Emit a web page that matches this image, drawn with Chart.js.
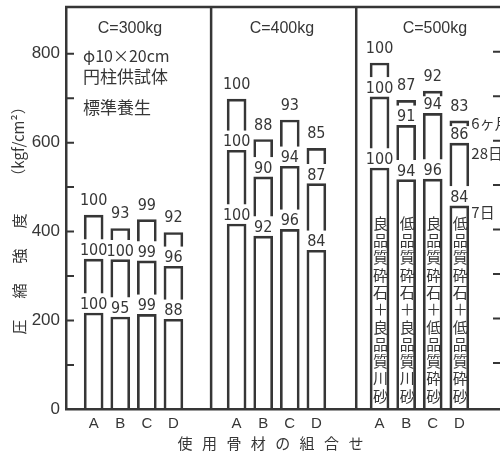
<!DOCTYPE html>
<html><head><meta charset="utf-8">
<script src="https://cdn.jsdelivr.net/npm/chart.js@4.4.1/dist/chart.umd.min.js"></script>
<style>html,body{margin:0;padding:0;background:#fff}#wrap{width:500px;height:455px;position:relative}</style>
</head><body><div id="wrap"><canvas id="c"></canvas></div>
<script>
// ---- data ----
const panels = ['C=300kg', 'C=400kg', 'C=500kg'];
const categories = ['A', 'B', 'C', 'D'];
const seriesNames = ['7日', '28日', '6ヶ月'];
const day7   = [217, 208, 214, 203,  417, 390, 405, 358,  543, 517, 518, 458];
const day28  = [338, 337, 334, 322,  583, 523, 547, 508,  703, 639, 666, 599];
const month6 = [437, 407, 427, 398,  698, 607, 651, 587,  779, 695, 716, 649];
const ratio7  = [100, 95, 99, 88,  100, 92, 96, 84,  100, 94, 96, 84];
const ratio28 = [100, 100, 99, 96,  100, 90, 94, 87,  100, 91, 94, 86];
const ratio6  = [100, 93, 99, 92,  100, 88, 93, 85,  100, 87, 92, 83];
const materials = ['良品質砕石＋良品質川砂', '低品質砕石＋良品質川砂', '良品質砕石＋低品質砕砂', '低品質砕石＋低品質砕砂'];
const yTickValues = [0, 100, 200, 300, 400, 500, 600, 700, 800];
const notes = ['φ10×20cm', '円柱供試体', '標準養生'];
const xTitle = '使用骨材の組合せ';
const yTitleChars = ['圧', '縮', '強', '度'];
const yTitleUnit = '（kgf/cm²）';

// ---- layout (not data) ----
const PANEL_STEP = 5.27, BAR_START = 1.02, BAR_STEP = 0.98, DIVIDER_STEP = 5.35;
const X_MAX = 16, Y_MAX = 905;
const GAP = 44, MIN_SEG = 12;
const TITLE_X = [2.36, 7.96, 13.6];
const INK = '#363636';
const CJK = '"Noto Sans CJK JP", sans-serif';
const NARROW = '"Liberation Sans Narrow", "DejaVu Sans Condensed", sans-serif';

const xPos = k => Math.floor(k / 4) * PANEL_STEP + BAR_START + (k % 4) * BAR_STEP;
const idx = day7.map((_, k) => k);

const ds7 = idx.map(k => ({x: xPos(k), y: day7[k]}));
const ds28 = idx.map(k => ({x: xPos(k), y: [Math.min(day7[k] + GAP, day28[k] - MIN_SEG), day28[k]]}));
const ds6 = idx.map(k => ({x: xPos(k), y: [Math.min(day28[k] + GAP, month6[k] - MIN_SEG), month6[k]]}));

const barStyle = {
  backgroundColor: 'rgba(0,0,0,0)', borderColor: INK, borderWidth: 2,
  borderSkipped: 'bottom', grouped: false, barThickness: 19
};

const deco = {
  id: 'deco',
  afterDatasetsDraw(chart) {
    const ctx = chart.ctx, xs = chart.scales.x, ys = chart.scales.y, ca = chart.chartArea;
    ctx.save();
    ctx.strokeStyle = INK; ctx.fillStyle = INK;
    // frame top + dividers
    ctx.lineWidth = 2.5;
    ctx.beginPath();
    ctx.moveTo(ca.left - 1, ca.top); ctx.lineTo(chart.width, ca.top);
    for (let p = 1; p < panels.length; p++) {
      const dx = xs.getPixelForValue(p * DIVIDER_STEP);
      ctx.moveTo(dx, ca.top); ctx.lineTo(dx, ca.bottom);
    }
    ctx.stroke();
    // inner y ticks (left axis and the right axis just beyond the edge)
    ctx.lineWidth = 2;
    ctx.beginPath();
    yTickValues.forEach(v => {
      if (v === 0) return;
      const py = ys.getPixelForValue(v);
      ctx.moveTo(ca.left, py); ctx.lineTo(ca.left + 8, py);
      ctx.moveTo(chart.width - 7, py - 2); ctx.lineTo(chart.width, py - 2);
    });
    ctx.stroke();
    // value labels
    ctx.textAlign = 'center'; ctx.textBaseline = 'alphabetic';
    ctx.font = '16px ' + NARROW;
    [[day7, ratio7, 4], [day28, ratio28, 4], [month6, ratio6, 10]].forEach(([vals, rat, off]) => {
      vals.forEach((v, k) => {
        ctx.fillText(String(rat[k]), xs.getPixelForValue(xPos(k)), ys.getPixelForValue(v) - off);
      });
    });
    // panel titles
    ctx.font = '16px "Liberation Sans", sans-serif';
    panels.forEach((t, p) => ctx.fillText(t, xs.getPixelForValue(TITLE_X[p]), ca.top + 26));
    // notes
    ctx.textAlign = 'left';
    ctx.font = '16px ' + CJK;
    ctx.fillText(notes[0], ca.left + 17, ca.top + 55);
    ctx.font = '17px ' + CJK;
    ctx.fillText(notes[1], ca.left + 17, ca.top + 76);
    ctx.fillText(notes[2], ca.left + 17, ca.top + 107);
    // materials (vertical text in last panel)
    ctx.textAlign = 'center'; ctx.textBaseline = 'middle';
    ctx.font = '15px ' + CJK;
    materials.forEach((m, i) => {
      const k = 2 * 4 + i;
      const cx = xs.getPixelForValue(xPos(k)) + 1;
      [...m].forEach((ch, j) => ctx.fillText(ch, cx, ca.top + 216 + j * 17.3));
    });
    // series names to the right of last bar
    const last = day7.length - 1;
    const rx = xs.getPixelForValue(xPos(last)) + 12;
    ctx.textAlign = 'left'; ctx.font = '15px ' + CJK;
    [[day7, 6], [day28, 10], [month6, 2]].forEach(([vals, off], s) => {
      ctx.fillText(seriesNames[s], rx, ys.getPixelForValue(vals[last]) + off);
    });
    // x title
    ctx.textAlign = 'center'; ctx.font = '15px ' + CJK;
    const chars = [...xTitle];
    chars.forEach((ch, j) => ctx.fillText(ch, 270.5 + (j - (chars.length - 1) / 2) * 24.4, ca.bottom + 34));
    // y title
    ctx.save();
    ctx.translate(19, 0);
    ctx.rotate(-Math.PI / 2);
    ctx.font = '15px ' + CJK;
    [327, 291, 256, 221].forEach((py, j) => ctx.fillText(yTitleChars[j], -py, 0));
    ctx.fillText(yTitleUnit, -141.5, -1);
    ctx.restore();
    ctx.restore();
  }
};

new Chart(document.getElementById('c'), {
  type: 'bar',
  data: {
    datasets: [
      Object.assign({label: seriesNames[0], data: ds7}, barStyle),
      Object.assign({label: seriesNames[1], data: ds28}, barStyle),
      Object.assign({label: seriesNames[2], data: ds6}, barStyle)
    ]
  },
  options: {
    responsive: true, maintainAspectRatio: false, animation: false,
    layout: {padding: {top: 7, left: 0, right: 0, bottom: 0}},
    plugins: {legend: {display: false}, tooltip: {enabled: false}, title: {display: false}},
    scales: {
      x: {
        type: 'linear', min: 0, max: X_MAX, offset: false,
        grid: {display: false, drawTicks: false, tickLength: 0},
        border: {display: true, color: INK, width: 2.5},
        afterBuildTicks: s => { s.ticks = idx.map(k => ({value: xPos(k)})); },
        afterFit: s => { s.height = 45.5; s.paddingLeft = 0; s.paddingRight = 0; },
        ticks: {
          autoSkip: false, maxRotation: 0, padding: 5, color: INK,
          font: {family: '"Liberation Sans", sans-serif', size: 15},
          callback: (v, i) => categories[i % categories.length]
        }
      },
      y: {
        min: 0, max: Y_MAX,
        grid: {display: false, drawTicks: false},
        border: {display: true, color: INK, width: 2.5},
        afterBuildTicks: s => { s.ticks = yTickValues.map(v => ({value: v})); },
        afterFit: s => { s.width = 66; s.paddingTop = 0; s.paddingBottom = 0; },
        ticks: {
          padding: 6, color: INK, autoSkip: false,
          font: {family: '"Liberation Sans", sans-serif', size: 17},
          callback: v => yLabel(v)
        }
      }
    }
  },
  plugins: [deco]
});
function yLabel(v) { return v % 200 === 0 ? String(v) : ''; }
</script>
</body></html>
